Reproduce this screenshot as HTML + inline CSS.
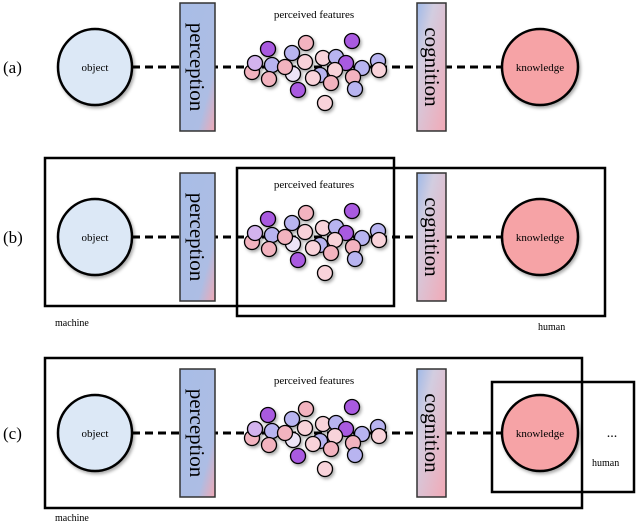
<!DOCTYPE html>
<html><head><style>
html,body{margin:0;padding:0;background:#fff;}
svg{display:block;}
text{font-family:"Liberation Serif",serif;}
</style></head><body>
<svg width="640" height="524" viewBox="0 0 640 524" xmlns="http://www.w3.org/2000/svg">
<defs>
<linearGradient id="gp" x1="0" y1="0" x2="1" y2="1">
<stop offset="0" stop-color="#a8bde6"/><stop offset="0.75" stop-color="#adbde4"/><stop offset="1" stop-color="#f0a8b4"/>
</linearGradient>
<linearGradient id="gc" x1="0" y1="0" x2="1" y2="1">
<stop offset="0" stop-color="#9fb9e8"/><stop offset="0.3" stop-color="#d2cde0"/><stop offset="1" stop-color="#f2a9b6"/>
</linearGradient>
<filter id="sh" x="-50%" y="-50%" width="200%" height="200%"><feDropShadow dx="1.5" dy="2" stdDeviation="1.5" flood-color="#000" flood-opacity="0.35"/></filter>
<g id="row">
<line x1="132" y1="0" x2="502" y2="0" stroke="#000" stroke-width="3" stroke-dasharray="8,5"/>
<ellipse cx="95" cy="0" rx="37" ry="38" fill="#dce8f6" stroke="#000" stroke-width="2.5" filter="url(#sh)"/>
<text x="95" y="4" font-size="11" text-anchor="middle">object</text>
<ellipse cx="540" cy="0" rx="38" ry="38" fill="#f6a3a6" stroke="#000" stroke-width="2.5" filter="url(#sh)"/>
<text x="540" y="4" font-size="11" text-anchor="middle">knowledge</text>
<rect x="180" y="-64" width="35" height="128" fill="url(#gp)" stroke="#333" stroke-width="1.5"/>
<text transform="translate(190,0) rotate(90)" font-size="21" text-anchor="middle">perception</text>
<rect x="417" y="-64" width="29" height="128" fill="url(#gc)" stroke="#333" stroke-width="1.5"/>
<text transform="translate(425,0) rotate(90)" font-size="21" text-anchor="middle">cognition</text>
<text x="314" y="-49" font-size="11" text-anchor="middle">perceived features</text>
<g stroke="#000" stroke-width="1.3" filter="url(#sh)">
<circle cx="352" cy="-26" r="7.5" fill="#a95ae0"/>
<circle cx="306" cy="-24" r="7.5" fill="#f2b3bf"/>
<circle cx="268" cy="-18" r="7.5" fill="#a95ae0"/>
<circle cx="292" cy="-14" r="7.5" fill="#b8b4f0"/>
<circle cx="323" cy="-9" r="7.5" fill="#f8d3da"/>
<circle cx="336" cy="-10" r="7.5" fill="#b8b4f0"/>
<circle cx="252" cy="5" r="7.5" fill="#f2b3bf"/>
<circle cx="255" cy="-4" r="7.5" fill="#d3b3ee"/>
<circle cx="305" cy="-5" r="7.5" fill="#f8d3da"/>
<circle cx="346" cy="-4" r="7.5" fill="#a95ae0"/>
<circle cx="362" cy="1" r="7.5" fill="#b8b4f0"/>
<circle cx="378" cy="-6" r="7.5" fill="#b8b4f0"/>
<circle cx="379" cy="3" r="7.5" fill="#f8d3da"/>
<circle cx="272" cy="-2" r="7.5" fill="#b8b4f0"/>
<circle cx="293" cy="7" r="7.5" fill="#ece3f6"/>
<circle cx="285" cy="0" r="7.5" fill="#f2b3bf"/>
<circle cx="320" cy="8" r="7.5" fill="#b8b4f0"/>
<circle cx="335" cy="3" r="7.5" fill="#f8d3da"/>
<circle cx="353" cy="10" r="7.5" fill="#f2b3bf"/>
<circle cx="313" cy="11" r="7.5" fill="#f8d3da"/>
<circle cx="269" cy="12" r="7.5" fill="#f2b3bf"/>
<circle cx="331" cy="16" r="7.5" fill="#f2b3bf"/>
<circle cx="355" cy="22" r="7.5" fill="#b8b4f0"/>
<circle cx="298" cy="23" r="7.5" fill="#a95ae0"/>
<circle cx="325" cy="36" r="7.5" fill="#f8d3da"/>
</g>
</g>
</defs>
<text x="3" y="73" font-size="17">(a)</text>
<use href="#row" transform="translate(0,67)"/>
<text x="3" y="243" font-size="17">(b)</text>
<use href="#row" transform="translate(0,237)"/>
<rect x="45" y="158" width="349" height="148" fill="none" stroke="#000" stroke-width="2.5"/>
<rect x="237" y="168" width="368" height="148" fill="none" stroke="#000" stroke-width="2.5"/>
<text x="55" y="326" font-size="10">machine</text>
<text x="538" y="330" font-size="10">human</text>
<text x="3" y="439" font-size="17">(c)</text>
<use href="#row" transform="translate(0,433)"/>
<rect x="45" y="358" width="537" height="150" fill="none" stroke="#000" stroke-width="2.5"/>
<rect x="492" y="382" width="142" height="110" fill="none" stroke="#000" stroke-width="2.5"/>
<text x="612" y="437" font-size="14" text-anchor="middle">...</text>
<text x="592" y="466" font-size="10">human</text>
<text x="55" y="521" font-size="10">machine</text>
</svg>
</body></html>
